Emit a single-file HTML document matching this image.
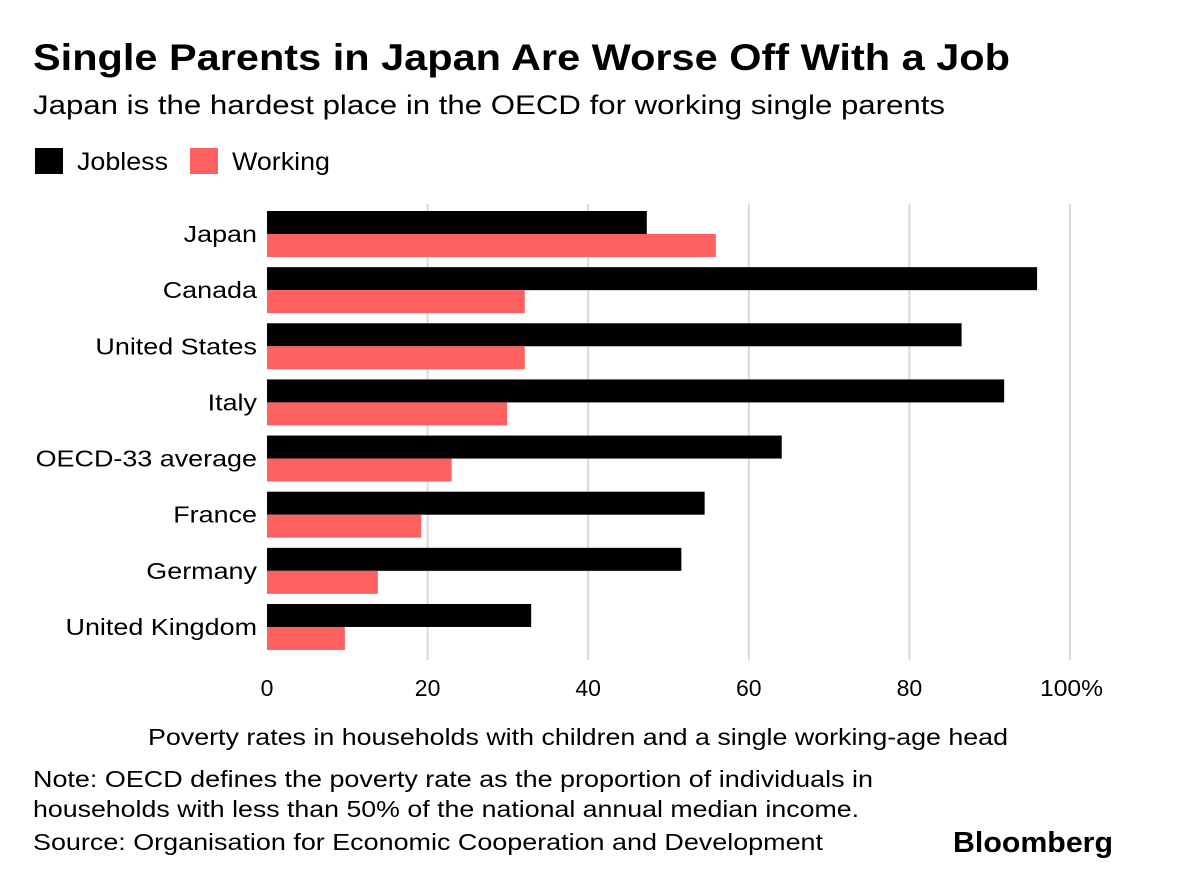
<!DOCTYPE html>
<html><head><meta charset="utf-8"><style>
body{margin:0;background:#fff;font-family:"Liberation Sans",sans-serif;}
#c{position:relative;width:1200px;height:874px;}
</style></head><body>
<div id="c">
<svg width="1200" height="874" xmlns="http://www.w3.org/2000/svg" id="svg" font-family="Liberation Sans, sans-serif">
<text x="33" y="70" font-size="37" font-weight="bold" fill="#000" textLength="977" lengthAdjust="spacingAndGlyphs">Single Parents in Japan Are Worse Off With a Job</text>
<text x="33" y="114" font-size="27" fill="#000" textLength="912" lengthAdjust="spacingAndGlyphs">Japan is the hardest place in the OECD for working single parents</text>
<rect x="35" y="148" width="28" height="26" fill="#000"/>
<text x="77" y="170" font-size="25" textLength="91" lengthAdjust="spacingAndGlyphs">Jobless</text>
<rect x="190" y="148" width="28" height="26" fill="#ff6161"/>
<text x="232" y="170" font-size="25" textLength="98" lengthAdjust="spacingAndGlyphs">Working</text>
<g id="grid"></g><g id="bars"></g><g id="labels"></g><g id="ticks"></g>
<text x="148" y="745" font-size="23" textLength="860" lengthAdjust="spacingAndGlyphs">Poverty rates in households with children and a single working-age head</text>
<text x="33" y="787" font-size="23" textLength="840" lengthAdjust="spacingAndGlyphs">Note: OECD defines the poverty rate as the proportion of individuals in</text>
<text x="33" y="817" font-size="23" textLength="826" lengthAdjust="spacingAndGlyphs">households with less than 50% of the national annual median income.</text>
<text x="33" y="850" font-size="23" textLength="790" lengthAdjust="spacingAndGlyphs">Source: Organisation for Economic Cooperation and Development</text>
<text x="953" y="852" font-size="29" font-weight="bold" textLength="160" lengthAdjust="spacingAndGlyphs">Bloomberg</text>
</svg>
</div>
<script>
const categories=["Japan","Canada","United States","Italy","OECD-33 average","France","Germany","United Kingdom"];
const jobless=[47.3,95.9,86.5,91.8,64.1,54.5,51.6,32.9];
const working=[55.9,32.1,32.1,29.9,23.0,19.2,13.8,9.7];
const ticks=[0,20,40,60,80,100];
const tickLabels=["0","20","40","60","80","100%"];
const NS="http://www.w3.org/2000/svg";
const x0=267,x1=1070,top0=211,pitch=56.14,bh=23;
const xs=v=>x0+(x1-x0)*v/100;
function mk(tag,attrs,parent,text){const e=document.createElementNS(NS,tag);for(const k in attrs)e.setAttribute(k,attrs[k]);if(text!=null)e.textContent=text;document.getElementById(parent).appendChild(e);return e;}
function widen(t,f){const w=t.getComputedTextLength();t.setAttribute('textLength',w*f);t.setAttribute('lengthAdjust','spacingAndGlyphs');}
ticks.forEach((t,i)=>{
 if(t>0){const g=mk('line',{x1:xs(t),x2:xs(t),y1:204,y2:660,stroke:'#d9d9d9','stroke-width':2},'grid');
 
 }
 const last=i==ticks.length-1;
 const l=mk('text',{x:last?xs(t)-30:xs(t),y:696,'font-size':23,'text-anchor':last?'start':'middle'},'ticks',tickLabels[i]);
 
 
 if(last){l.setAttribute('textLength',63);l.setAttribute('lengthAdjust','spacingAndGlyphs');}
});
categories.forEach((c,i)=>{
 const y=top0+i*pitch;
 const a=mk('rect',{x:x0,y:y,width:xs(jobless[i])-x0,height:bh,fill:'#000'},'bars');
 
 
 const b=mk('rect',{x:x0,y:y+bh,width:xs(working[i])-x0,height:bh,fill:'#ff6161'},'bars');
 
 
 const t=mk('text',{x:257,y:y+bh+8,'font-size':23,'text-anchor':'end'},'labels',c);
 
 
 widen(t,1.17);
});
</script>
</body></html>
